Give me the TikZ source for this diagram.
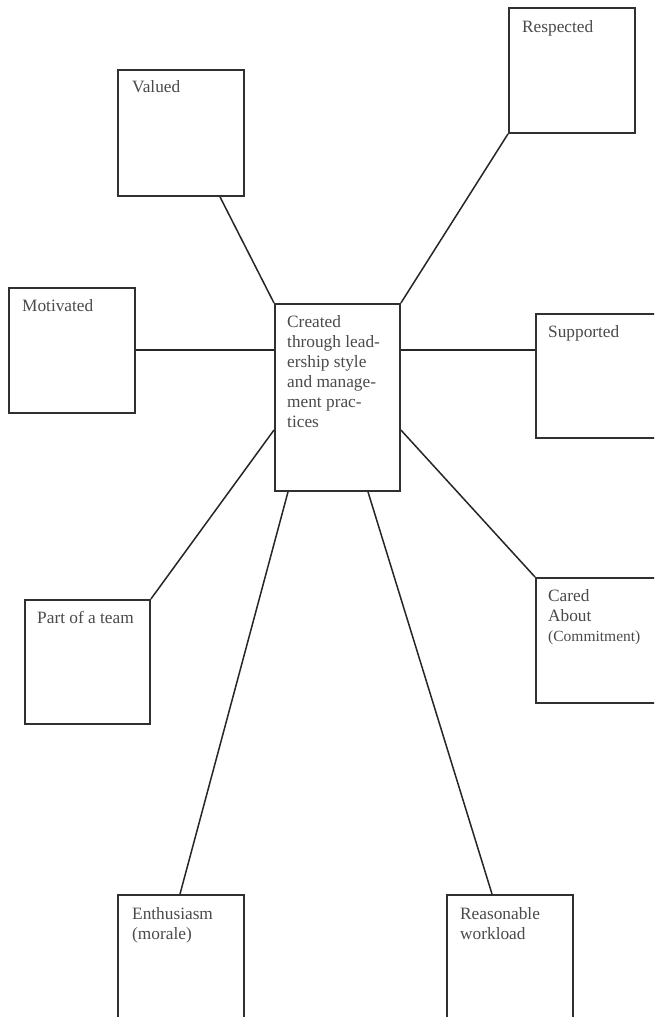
\documentclass[tikz,border=0pt]{standalone}
\usepackage{fontspec}
\setmainfont{Liberation Serif}
\usetikzlibrary{calc}
\definecolor{boxline}{HTML}{303030}
\definecolor{txtgrey}{HTML}{4A4A4A}
\tikzset{
  box/.style={draw=boxline, line width=1.9pt, rectangle, inner sep=0pt, anchor=north west, minimum width=#1},
  box/.default=126pt,
  lbl/.style={anchor=north west, inner sep=0pt, align=left, text=txtgrey,
    font=\fontsize{17.3}{20}\selectfont},
  conn/.style={draw=black!85, line width=1.5pt}
}
\begin{document}
\begin{tikzpicture}[x=1pt,y=-1pt]
\useasboundingbox (0,0) rectangle (654,1017);
\clip (0,0) rectangle (654,1017);
\fill[white] (0,0) rectangle (654,1017);
% boxes
\node[box, minimum height=126pt] (valued) at (117,69) {};
\node[box, minimum height=125pt] (respected) at (508,7) {};
\node[box, minimum height=125pt] (motivated) at (8,287) {};
\node[box=125pt, minimum height=187pt] (center) at (274,303) {};
\node[box, minimum height=124pt] (supported) at (535,313) {};
\node[box=125pt, minimum height=124pt] (team) at (24,599) {};
\node[box, minimum height=125pt] (cared) at (535,577) {};
\node[box, minimum height=126pt] (enth) at (117,894) {};
\node[box, minimum height=126pt] (reas) at (446,894) {};
% labels
\node[lbl] (tvalued) at ($(valued.north west)+(15,11)$) {Valued};
\node[lbl] (trespected) at ($(respected.north west)+(14,13)$) {Respected};
\node[lbl] (tmotivated) at ($(motivated.north west)+(14,12)$) {Motivated};
\node[lbl] (tcenter) at ($(center.north west)+(13,12)$) {Created\\through lead-\\ership style\\and manage-\\ment prac-\\tices};
\node[lbl] (tsupported) at ($(supported.north west)+(13,12)$) {Supported};
\node[lbl] (tteam) at ($(team.north west)+(13,12)$) {Part of a team};
\node[lbl] (tcared) at ($(cared.north west)+(13,12)$) {Cared\\About\\{\fontsize{15.5}{20}\selectfont(Commitment)}};
\node[lbl] (tenth) at ($(enth.north west)+(15,13)$) {Enthusiasm\\(morale)};
\node[lbl] (treas) at ($(reas.north west)+(14,13)$) {Reasonable\\workload};
% connectors
\draw[conn] ($(valued.south west)+(103,0)$) -- (center.north west);
\draw[conn] (respected.south west) -- (center.north east);
\draw[conn] ($(motivated.north east)+(0,63)$) -- ($(center.north west)+(0,47)$);
\draw[conn] ($(center.north east)+(0,47)$) -- ($(supported.north west)+(0,37)$);
\draw[conn] ($(center.north west)+(0,127)$) -- (team.north east);
\draw[conn] ($(center.north east)+(0,127)$) -- (cared.north west);
\draw[conn] ($(center.south west)+(14,0)$) -- ($(enth.north west)+(63,0)$);
\draw[conn] ($(center.south west)+(94,0)$) -- ($(reas.north west)+(46,0)$);
\end{tikzpicture}
\end{document}
